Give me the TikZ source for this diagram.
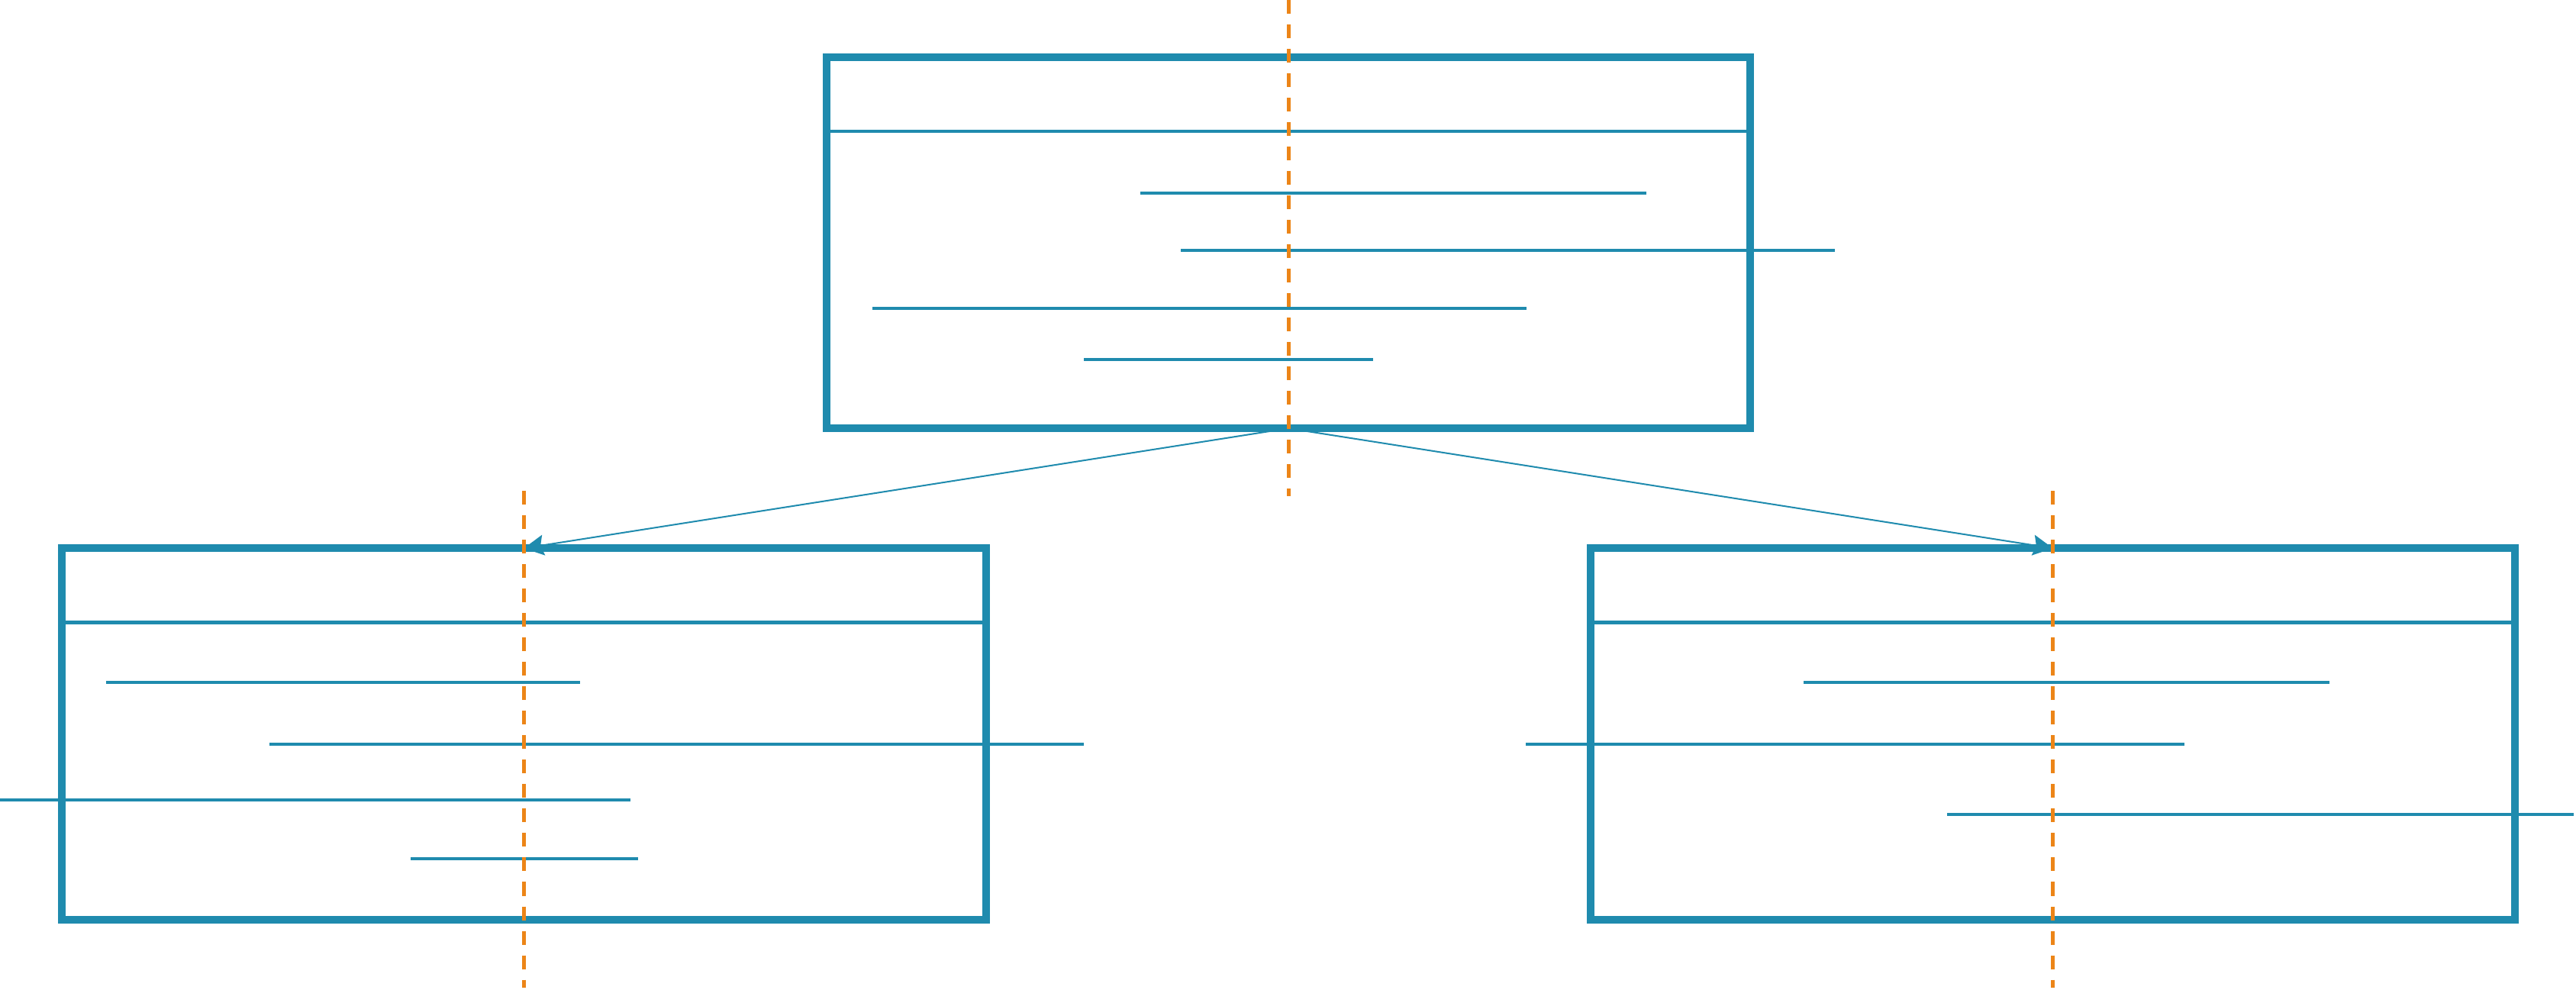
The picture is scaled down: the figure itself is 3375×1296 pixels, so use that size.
\documentclass[tikz,border=0pt]{standalone}
\usetikzlibrary{arrows.meta, positioning}
\definecolor{treeblue}{HTML}{1F8BAE}
\definecolor{medorange}{HTML}{EC8518}

\begin{document}
\begin{tikzpicture}[x=0.01cm, y=-0.01cm, >={Stealth[length=0.26cm, width=0.27cm, inset=0.04cm]},
  tnode/.style={rectangle, draw=treeblue, line width=0.1cm, minimum width=12.1cm, minimum height=4.86cm, inner sep=0pt, outer sep=0pt},
  seg/.style={draw=treeblue, line width=0.045cm},
  median/.style={draw=medorange, line width=0.05cm, dash pattern=on 0.18cm off 0.14cm},
  link/.style={->, draw=treeblue, fill=treeblue, line width=0.02cm}]
  \useasboundingbox (0,0) rectangle (3375,1296);
  \node[tnode] (root) at (1688,318) {};
  \node[tnode, below=1.57cm of root, xshift=-10.01cm] (left) {};
  \node[tnode, below=1.57cm of root, xshift=10.01cm] (right) {};
  % header separators
  \foreach \n in {root,left,right}
    \draw[seg] ([yshift=-0.97cm]\n.north west) -- ([yshift=-0.97cm]\n.north east);
  % intervals
  \foreach \ya/\xa/\xb in {253/1494/2157, 328/1547/2404, 404/1143/2000, 471/1420/1799,
                           894/139/760, 975/353/1420, 1048/0/826, 1125/538/836,
                           894/2363/3052, 975/1999/2862, 1067/2551/3372}
    \draw[seg] (\xa,\ya) -- (\xb,\ya);
  \draw[link] (root.south) -- (left.north);
  \draw[link] (root.south) -- (right.north);
  % medians
  \foreach \n in {root,left,right}
    \draw[median] ([yshift=0.75cm]\n.north) -- ([yshift=-0.89cm]\n.south);
\end{tikzpicture}
\end{document}
